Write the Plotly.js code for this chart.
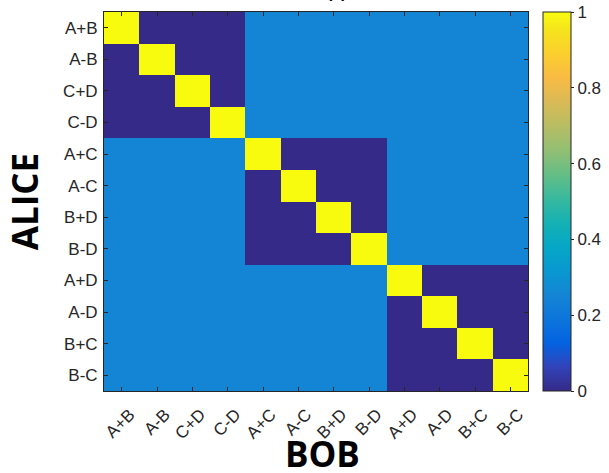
<!DOCTYPE html>
<html>
<head>
<meta charset="utf-8">
<script src="https://cdn.plot.ly/plotly-3.0.1.min.js"></script>
<style>html,body{margin:0;padding:0;background:#fff;}#chart{width:609px;height:473px;}</style>
</head>
<body>
<div id="chart"></div>
<script>
// Categories (same for both axes)
const aliceLabels = ["A+B","A-B","C+D","C-D","A+C","A-C","B+D","B-D","A+D","A-D","B+C","B-C"];
const bobLabels   = ["A+B","A-B","C+D","C-D","A+C","A-C","B+D","B-D","A+D","A-D","B+C","B-C"];

// Matrix values (row = ALICE, column = BOB)
const row01 = [1,0,0,0,0.25,0.25,0.25,0.25,0.25,0.25,0.25,0.25];
const row02 = [0,1,0,0,0.25,0.25,0.25,0.25,0.25,0.25,0.25,0.25];
const row03 = [0,0,1,0,0.25,0.25,0.25,0.25,0.25,0.25,0.25,0.25];
const row04 = [0,0,0,1,0.25,0.25,0.25,0.25,0.25,0.25,0.25,0.25];
const row05 = [0.25,0.25,0.25,0.25,1,0,0,0,0.25,0.25,0.25,0.25];
const row06 = [0.25,0.25,0.25,0.25,0,1,0,0,0.25,0.25,0.25,0.25];
const row07 = [0.25,0.25,0.25,0.25,0,0,1,0,0.25,0.25,0.25,0.25];
const row08 = [0.25,0.25,0.25,0.25,0,0,0,1,0.25,0.25,0.25,0.25];
const row09 = [0.25,0.25,0.25,0.25,0.25,0.25,0.25,0.25,1,0,0,0];
const row10 = [0.25,0.25,0.25,0.25,0.25,0.25,0.25,0.25,0,1,0,0];
const row11 = [0.25,0.25,0.25,0.25,0.25,0.25,0.25,0.25,0,0,1,0];
const row12 = [0.25,0.25,0.25,0.25,0.25,0.25,0.25,0.25,0,0,0,1];
const zValues = [row01,row02,row03,row04,row05,row06,row07,row08,row09,row10,row11,row12];

const colorbarTicks = [0,0.2,0.4,0.6,0.8,1];
const colorbarTickText = ["0","0.2","0.4","0.6","0.8","1"];

// parula colormap stops
const parulaIdx = [0,4,8,12,16,20,24,28,32,36,40,44,48,52,56,60,63];
const parulaRGB = [
 [53,42,135],[50,67,186],[3,99,225],[13,117,220],[20,133,212],[9,152,209],
 [6,167,198],[21,177,180],[56,185,158],[101,190,134],[146,191,115],[183,189,100],
 [217,186,86],[248,187,68],[252,206,46],[245,228,29],[249,251,14]
];
const colorscale = parulaIdx.map((i,k)=>[i/63, 'rgb('+parulaRGB[k].join(',')+')']);

const tickFont = {family: "Liberation Sans, Arial, sans-serif", size: 17, color: "#262626"};
const titleFont = {family: "Open Sans, sans-serif", size: 35, color: "#000", weight: 700};

const trace = {
  type: 'heatmap',
  x: bobLabels,
  y: aliceLabels,
  z: zValues,
  zmin: 0, zmax: 1,
  colorscale: colorscale,
  xgap: 0, ygap: 0,
  hoverinfo: 'skip',
  colorbar: {
    x: 1 + 15/424, xanchor: 'left', xpad: 0,
    y: 0.5, yanchor: 'middle', ypad: 0,
    len: 1, lenmode: 'fraction',
    thickness: 28,
    outlinecolor: '#262626', outlinewidth: 1,
    tickvals: colorbarTicks, ticktext: colorbarTickText,
    ticks: 'outside', ticklen: 3, tickcolor: '#262626',
    tickfont: tickFont
  }
};

const layout = {
  width: 609, height: 473,
  margin: {l: 104, r: 81, t: 12, b: 82, autoexpand: false},
  paper_bgcolor: '#fff', plot_bgcolor: '#fff',
  xaxis: {
    type: 'category',
    tickangle: -45,
    ticks: 'inside', ticklen: 4, tickcolor: '#262626',
    ticklabelshift: 8, ticklabelstandoff: 6,
    showline: true, linecolor: '#262626', linewidth: 1, mirror: 'allticks',
    tickfont: tickFont,
    showgrid: false, zeroline: false
  },
  yaxis: {
    type: 'category',
    autorange: 'reversed',
    ticks: 'inside', ticklen: 4, tickcolor: '#262626',
    ticklabelstandoff: 2,
    showline: true, linecolor: '#262626', linewidth: 1, mirror: 'allticks',
    tickfont: tickFont,
    showgrid: false, zeroline: false,
    title: {text: 'ALICE', font: titleFont, standoff: 13}
  },
  annotations: [{
    text: '(a)', xref: 'paper', yref: 'paper', x: (337-104)/424, y: 1,
    xanchor: 'center', yanchor: 'bottom', yshift: 9, showarrow: false,
    font: {family: "Liberation Sans, Arial, sans-serif", size: 16, color: '#000', weight: 700}
  }, {
    text: 'BOB', xref: 'paper', yref: 'paper', x: (322-104)/424, y: 0,
    xanchor: 'center', yanchor: 'middle', yshift: -62, showarrow: false,
    font: titleFont
  }]
};

Plotly.newPlot('chart', [trace], layout, {staticPlot: true, displayModeBar: false});
</script>
</body>
</html>
